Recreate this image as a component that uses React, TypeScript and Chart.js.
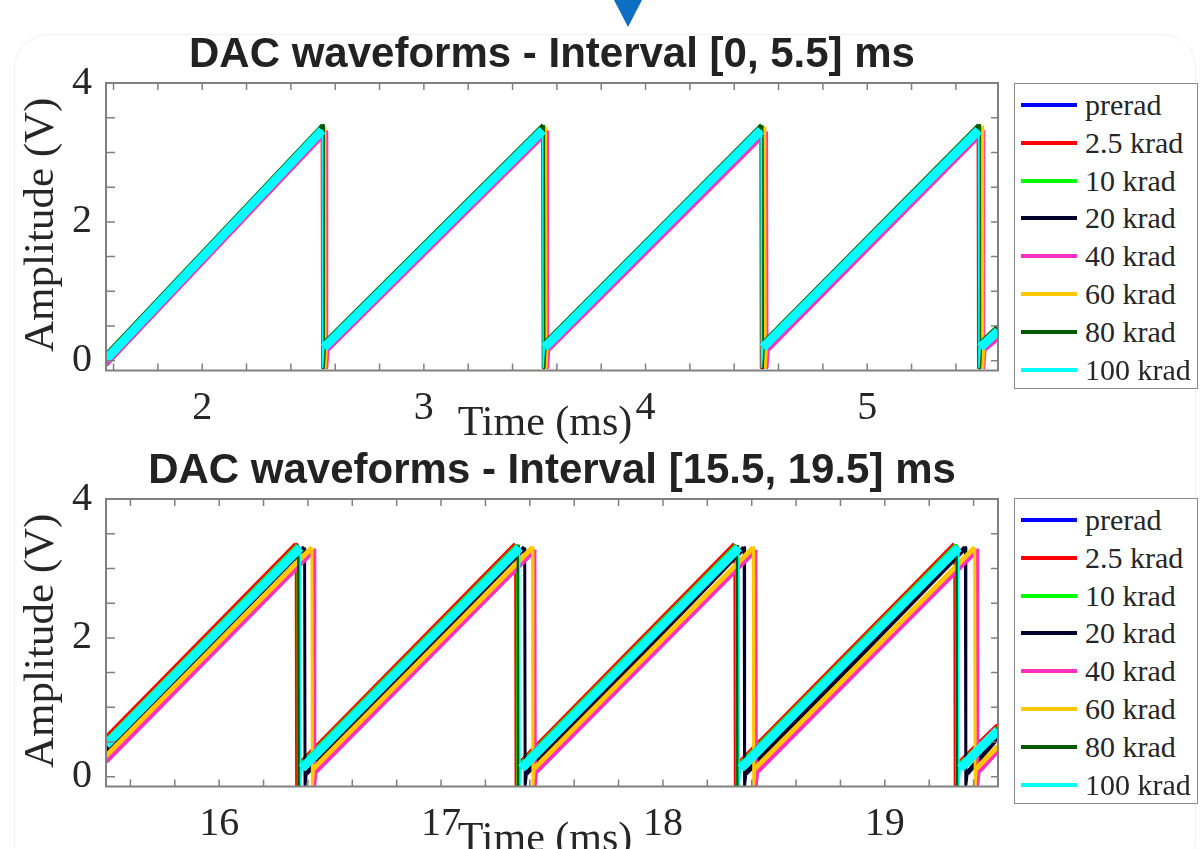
import React, { useEffect, useRef } from "react";
import { Chart, registerables } from "chart.js";

Chart.register(...registerables);

// ---------- shared series definitions ----------
const seriesNames = ["prerad", "2.5 krad", "10 krad", "20 krad", "40 krad", "60 krad", "80 krad", "100 krad"];
const seriesColors = ["#0000ff", "#ff0000", "#00ff00", "#00002a", "#ff2fbf", "#ffc800", "#005a00", "#00ffff"];
const seriesWidths = [5, 5, 5, 5, 5, 5, 5, 9];
const seriesDropWidths = [3, 3, 3, 3, 3, 3, 3, 1.5];
const seriesOrder = [7, 6, 5, 4, 3, 2, 1, 0];

// ---------- top panel: interval [0, 5.5] ms ----------
const topTitle = "DAC waveforms - Interval [0, 5.5] ms";
const topXMin = 1.566;
const topXMax = 5.59;
const topXTickLabels = [2, 3, 4, 5];
const topDrops = [
  [2.543, 3.538, 4.523, 5.503],
  [2.541, 3.536, 4.52, 5.5],
  [2.544, 3.539, 4.525, 5.505],
  [2.545, 3.54, 4.526, 5.507],
  [2.56, 3.556, 4.546, 5.524],
  [2.553, 3.549, 4.538, 5.519],
  [2.545, 3.54, 4.525, 5.505],
  [2.541, 3.536, 4.521, 5.502],
];
const topPeak = [3.26, 3.35, 3.38, 3.31, 3.3, 3.37, 3.39, 3.32];
const topReset = [0.13, 0.22, 0.25, 0.18, 0.17, 0.24, 0.26, 0.19];
const topStart = [-0.05, 0.04, 0.07, 0.0, -0.05, 0.05, 0.08, 0.02];
const topEnd = [0.36, 0.46, 0.48, 0.41, 0.33, 0.39, 0.49, 0.43];
const topFloor = [-0.1, -0.1, -0.1, -0.1, -0.1, -0.1, -0.1, -0.1];

// ---------- bottom panel: interval [15.5, 19.5] ms ----------
const botTitle = "DAC waveforms - Interval [15.5, 19.5] ms";
const botXMin = 15.49;
const botXMax = 19.51;
const botXTickLabels = [16, 17, 18, 19];
const botDrops = [
  [16.351, 17.34, 18.328, 19.318],
  [16.347, 17.336, 18.324, 19.315],
  [16.355, 17.344, 18.332, 19.322],
  [16.385, 17.377, 18.366, 19.363],
  [16.429, 17.423, 18.419, 19.417],
  [16.418, 17.412, 18.407, 19.405],
  [16.358, 17.347, 18.335, 19.325],
  [16.365, 17.354, 18.342, 19.332],
];
const botPeak = [3.33, 3.35, 3.33, 3.3, 3.27, 3.3, 3.32, 3.3];
const botReset = [0.15, 0.16, 0.15, 0.05, 0.08, 0.12, 0.14, 0.12];
const botStart = [0.53, 0.56, 0.51, 0.38, 0.22, 0.3, 0.49, 0.46];
const botEnd = [0.72, 0.74, 0.7, 0.57, 0.38, 0.44, 0.69, 0.67];
const botFloor = [-0.12, -0.12, -0.12, -0.12, -0.12, -0.12, -0.12, -0.12];

// ---------- axis settings ----------
const yMin = -0.14;
const yMax = 4;
const yTickLabels = [0, 2, 4];
const yMinorStep = 0.5;
const xMinorStep = 0.2;
const dropToFloor = 0.002;
const floorToReset = 0.008;

const textColor = "#262626";
const frameColor = "#808080";

function buildPoints(
  xmin: number,
  xmax: number,
  drops: number[],
  start: number,
  peak: number,
  floor: number,
  reset: number,
  end: number
) {
  const pts: { x: number; y: number }[] = [{ x: xmin, y: start }];
  drops.forEach((d) => {
    pts.push({ x: d, y: peak });
    pts.push({ x: d + dropToFloor, y: floor });
    pts.push({ x: d + floorToReset, y: reset });
  });
  pts.push({ x: xmax, y: end });
  return pts;
}

const framePlugin = {
  id: "matlabFrame",
  afterDraw(chart: any, _args: any, opts: any) {
    const { ctx, chartArea: a } = chart;
    const xs = chart.scales.x;
    const ys = chart.scales.y;
    ctx.save();
    ctx.strokeStyle = frameColor;
    ctx.lineWidth = 1.5;
    ctx.beginPath();
    const tl = 7;
    const x0 = Math.ceil(opts.xmin / xMinorStep - 1e-9) * xMinorStep;
    for (let v = x0; v <= opts.xmax + 1e-9; v += xMinorStep) {
      const px = xs.getPixelForValue(v);
      ctx.moveTo(px, a.bottom);
      ctx.lineTo(px, a.bottom - tl);
      ctx.moveTo(px, a.top);
      ctx.lineTo(px, a.top + tl);
    }
    for (let v = 0; v <= yMax + 1e-9; v += yMinorStep) {
      const py = ys.getPixelForValue(v);
      ctx.moveTo(a.left, py);
      ctx.lineTo(a.left + tl + 2, py);
      ctx.moveTo(a.right, py);
      ctx.lineTo(a.right - tl, py);
    }
    ctx.stroke();
    ctx.lineWidth = 2;
    ctx.strokeRect(a.left, a.top, a.right - a.left, a.bottom - a.top);

    // title
    ctx.fillStyle = "#222222";
    ctx.font = "bold 42px 'Liberation Sans', Arial, sans-serif";
    ctx.textAlign = "center";
    ctx.textBaseline = "middle";
    ctx.fillText(opts.title, (a.left + a.right) / 2, a.top - 28);

    // x axis title
    ctx.fillStyle = textColor;
    ctx.font = "42px 'Liberation Serif', 'Times New Roman', serif";
    ctx.fillText("Time (ms)", (a.left + a.right) / 2 - 7, a.bottom + 53);

    // y axis title
    ctx.font = "43px 'Liberation Serif', 'Times New Roman', serif";
    ctx.translate(42, (a.top + a.bottom) / 2 - 2);
    ctx.rotate(-Math.PI / 2);
    ctx.fillText("Amplitude (V)", 0, 0);
    ctx.restore();
  },
};

function makeConfig(
  title: string,
  xmin: number,
  xmax: number,
  xTicks: number[],
  drops: number[][],
  start: number[],
  peak: number[],
  floor: number[],
  reset: number[],
  end: number[],
  canvasHeight: number
): any {
  const datasets = seriesNames.map((name, i) => ({
    label: name,
    data: buildPoints(xmin, xmax, drops[i], start[i], peak[i], floor[i], reset[i], end[i]),
    borderColor: seriesColors[i],
    backgroundColor: seriesColors[i],
    borderWidth: seriesWidths[i],
    borderJoinStyle: "round",
    borderCapStyle: "butt",
    pointRadius: 0,
    tension: 0,
    fill: false,
    order: seriesOrder[i],
    segment: {
      borderWidth: (c: any) =>
        Math.abs(c.p0.parsed.y - c.p1.parsed.y) > 0.15 && Math.abs(c.p1.parsed.x - c.p0.parsed.x) < 0.02
          ? seriesDropWidths[i]
          : seriesWidths[i],
    },
  }));
  const tickFont = { family: "'Liberation Serif', 'Times New Roman', serif", size: 40 };
  return {
    type: "line",
    data: { datasets },
    options: {
      responsive: false,
      animation: false,
      devicePixelRatio: 1,
      layout: { padding: { left: 0, top: 83, right: 205, bottom: 0 } },
      plugins: {
        legend: { display: false },
        title: { display: false },
        tooltip: { enabled: false },
        matlabFrame: { title, xmin, xmax },
      },
      scales: {
        x: {
          type: "linear",
          min: xmin,
          max: xmax,
          afterFit: (s: any) => {
            s.height = canvasHeight - 370.5;
          },
          grid: { display: false, drawTicks: false },
          border: { display: false },
          afterBuildTicks: (s: any) => {
            s.ticks = xTicks.map((v) => ({ value: v }));
          },
          ticks: {
            font: tickFont,
            color: textColor,
            padding: 14,
            maxRotation: 0,
            autoSkip: false,
            callback: (v: any) => String(v),
          },
        },
        y: {
          type: "linear",
          min: yMin,
          max: yMax,
          afterFit: (s: any) => {
            s.width = 106;
          },
          grid: { display: false, drawTicks: false },
          border: { display: false },
          afterBuildTicks: (s: any) => {
            s.ticks = yTickLabels.map((v) => ({ value: v }));
          },
          ticks: {
            font: tickFont,
            color: textColor,
            padding: 14,
            callback: (v: any) => String(v),
          },
        },
      },
    },
    plugins: [framePlugin],
  };
}

function Legend({ top }: { top: number }) {
  return (
    <div
      style={{
        position: "absolute",
        left: 1014,
        top,
        width: 184,
        height: 306,
        border: "1px solid #8a8a8a",
        background: "#ffffff",
        boxSizing: "border-box",
      }}
    >
      {seriesNames.map((name, i) => (
        <div
          key={name}
          style={{
            position: "absolute",
            left: 0,
            top: 21 + i * 37.8 - 20,
            height: 40,
            width: 184,
          }}
        >
          <div
            style={{
              position: "absolute",
              left: 6,
              top: 18,
              width: 56,
              height: 4,
              background: seriesColors[i],
            }}
          />
          <div
            style={{
              position: "absolute",
              left: 70,
              top: 0,
              height: 40,
              lineHeight: "40px",
              fontFamily: "'Liberation Serif', 'Times New Roman', serif",
              fontSize: 30,
              color: textColor,
              whiteSpace: "nowrap",
            }}
          >
            {name}
          </div>
        </div>
      ))}
    </div>
  );
}

function Panel({ top, height, cfg }: { top: number; height: number; cfg: () => any }) {
  const ref = useRef<HTMLCanvasElement | null>(null);
  useEffect(() => {
    if (!ref.current) return;
    const chart = new Chart(ref.current, cfg());
    return () => chart.destroy();
  }, []);
  return (
    <canvas
      ref={ref}
      width={1203}
      height={height}
      style={{ position: "absolute", left: 0, top, width: 1203, height }}
    />
  );
}

export default function App() {
  const topH = 450;
  const botH = 433;
  return (
    <div
      style={{
        position: "fixed",
        left: 0,
        top: 0,
        width: 1203,
        height: 849,
        background: "#ffffff",
        overflow: "hidden",
      }}
    >
      <div
        style={{
          position: "absolute",
          left: 14,
          top: 34,
          width: 1180,
          height: 840,
          border: "1px solid #f2f2f2",
          borderRadius: 34,
        }}
      />
      <div
        style={{
          position: "absolute",
          left: 614,
          top: 0,
          width: 0,
          height: 0,
          borderLeft: "14px solid transparent",
          borderRight: "14px solid transparent",
          borderTop: "27px solid #0c6fc3",
        }}
      />
      <Panel
        top={0}
        height={topH}
        cfg={() =>
          makeConfig(topTitle, topXMin, topXMax, topXTickLabels, topDrops, topStart, topPeak, topFloor, topReset, topEnd, topH)
        }
      />
      <Panel
        top={416}
        height={botH}
        cfg={() =>
          makeConfig(botTitle, botXMin, botXMax, botXTickLabels, botDrops, botStart, botPeak, botFloor, botReset, botEnd, botH)
        }
      />
      <Legend top={83} />
      <Legend top={498} />
    </div>
  );
}
